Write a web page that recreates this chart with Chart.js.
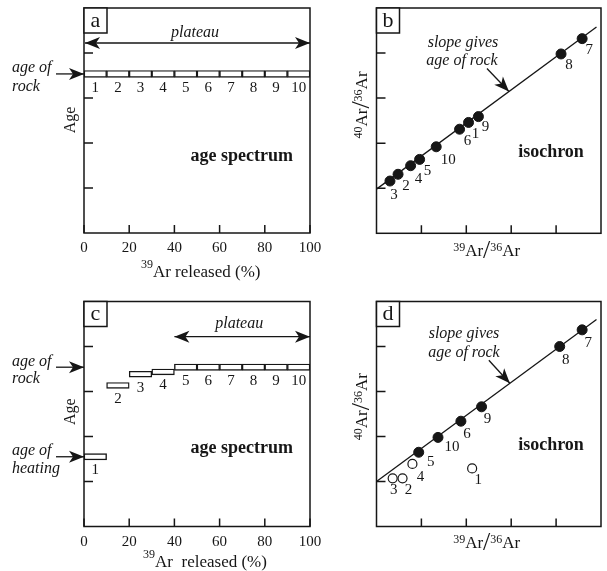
<!DOCTYPE html>
<html>
<head>
<meta charset="utf-8">
<script src="https://cdn.jsdelivr.net/npm/chart.js@4.4.0/dist/chart.umd.min.js"></script>
<style>
    html, body { margin: 0; padding: 0; background: #fff; }
    #wrap { position: relative; width: 607px; height: 571px; }
    #wrap canvas { position: absolute; left: 0; top: 0; }
</style>
</head>
<body>
<div id="wrap">
    <canvas id="chartA" width="607" height="571"></canvas>
    <canvas id="chartB" width="607" height="571"></canvas>
    <canvas id="chartC" width="607" height="571"></canvas>
    <canvas id="chartD" width="607" height="571"></canvas>
</div>
<script>
// Heating steps and % 39Ar released (centre of each 10% step)
const stepNames = ['1', '2', '3', '4', '5', '6', '7', '8', '9', '10'];
const stepMid = [5, 15, 25, 35, 45, 55, 65, 75, 85, 95];
const pctTicks = [0, 20, 40, 60, 80, 100];
const ageTicks = [1, 2, 3, 4];
const isoTicks = [1, 2, 3, 4];

// (a) undisturbed rock: flat age spectrum
const ageA_low  = [3.46, 3.46, 3.46, 3.46, 3.46, 3.46, 3.46, 3.46, 3.46, 3.46];
const ageA_high = [3.61, 3.61, 3.61, 3.61, 3.61, 3.61, 3.61, 3.61, 3.61, 3.61];

// (c) reheated rock: early steps give younger ages
const ageC_low  = [1.48, 3.07, 3.32, 3.37, 3.47, 3.47, 3.47, 3.47, 3.47, 3.47];
const ageC_high = [1.62, 3.20, 3.45, 3.50, 3.61, 3.61, 3.61, 3.61, 3.61, 3.61];

// (b) isochron, steps 1..10 (39Ar/36Ar, 40Ar/36Ar)
const isoB_x = [2.05, 0.48, 0.30, 0.76, 0.96, 1.85, 4.58, 4.11, 2.27, 1.33];
const isoB_y = [2.46, 1.31, 1.16, 1.50, 1.64, 2.31, 4.32, 3.98, 2.59, 1.92];
const lineB_x = [0, 4.9];
const lineB_y = [0.98, 4.58];

// (d) isochron of reheated rock, steps 1-4 fall off the line
const isoD_x = [2.13, 0.58, 0.36, 0.80, 0.94, 1.88, 4.58, 4.08, 2.34, 1.37];
const isoD_y = [1.29, 1.07, 1.07, 1.39, 1.65, 2.34, 4.37, 4.00, 2.66, 1.98];
const isoD_open = [true, true, true, true, false, false, false, false, false, false];
const lineD_x = [0, 4.9];
const lineD_y = [1.0, 4.60];

// label offsets (px) for the step numbers next to isochron points
const labOffB = [[7, 12], [8, 12], [4, 14], [8, 13], [8, 12], [8, 12], [7, 11], [8, 11], [7, 10], [12, 13]];
const labOffD = [[6, 12], [6, 12], [1, 12], [8, 13], [12, 10], [6, 13], [6, 13], [6, 14], [6, 12], [14, 10]];

const SERIF = '"Liberation Serif", "DejaVu Serif", serif';
const INK = '#161616';
const W = 607, H = 571;
const TICK_PAD = 6.5;
// height chart.js gives the x axis: one label line + padding on both sides
const X_AXIS_H = 18 + 2 * TICK_PAD;

// text helpers
function text(ctx, s, x, y, size, style, align, baseline) {
    ctx.font = (style || '') + ' ' + size + 'px ' + SERIF;
    ctx.textAlign = align || 'center';
    ctx.textBaseline = baseline || 'alphabetic';
    ctx.fillText(s, x, y);
}

// parts: [string, size, rise]
function rich(ctx, parts, cx, cy, rot) {
    ctx.save();
    ctx.translate(cx, cy);
    ctx.rotate(rot || 0);
    ctx.textAlign = 'left';
    ctx.textBaseline = 'alphabetic';
    let w = 0;
    parts.forEach(p => { ctx.font = p[1] + 'px ' + SERIF; w += ctx.measureText(p[0]).width; });
    let x = -w / 2;
    parts.forEach(p => {
        ctx.font = p[1] + 'px ' + SERIF;
        ctx.fillText(p[0], x, -(p[2] || 0));
        x += ctx.measureText(p[0]).width;
    });
    ctx.restore();
}

function head(ctx, x, y, ang) {
    ctx.save();
    ctx.translate(x, y);
    ctx.rotate(ang);
    ctx.beginPath();
    ctx.moveTo(0, 0);
    ctx.lineTo(-15, -6);
    ctx.lineTo(-11, 0);
    ctx.lineTo(-15, 6);
    ctx.closePath();
    ctx.fill();
    ctx.restore();
}

function arrow(ctx, x1, y1, x2, y2, both) {
    ctx.beginPath();
    ctx.moveTo(x1, y1);
    ctx.lineTo(x2, y2);
    ctx.stroke();
    const a = Math.atan2(y2 - y1, x2 - x1);
    head(ctx, x2, y2, a);
    if (both) head(ctx, x1, y1, a + Math.PI);
}

const pctTitle = [['39', 12, 9], ['Ar released (%)', 17, 0]];
const pctTitleC = [['39', 12, 9], ['Ar  released (%)', 17, 0]];
const ratioX = [['39', 12, 5], ['Ar', 17, 0], ['/', 26, -2], ['36', 12, 5], ['Ar', 17, 0]];
const ratioY = [['40', 12, 5], ['Ar', 17, 0], ['/', 26, -2], ['36', 12, 5], ['Ar', 17, 0]];

// frame, inward ticks, panel letter and annotations
function panelPlugin(letter, xTicks, yTicks, extra) {
    return {
        id: 'panel_' + letter,
        afterDatasetsDraw(chart) {
            const ctx = chart.ctx, a = chart.chartArea;
            const xs = chart.scales.x, ys = chart.scales.y;
            ctx.save();
            ctx.strokeStyle = INK;
            ctx.fillStyle = INK;
            ctx.lineWidth = 1.5;
            ctx.strokeRect(a.left, a.top, a.right - a.left, a.bottom - a.top);
            ctx.beginPath();
            xTicks.forEach(v => {
                const px = xs.getPixelForValue(v);
                ctx.moveTo(px, a.bottom);
                ctx.lineTo(px, a.bottom - 8);
            });
            yTicks.forEach(v => {
                const py = ys.getPixelForValue(v);
                ctx.moveTo(a.left, py);
                ctx.lineTo(a.left + 9, py);
            });
            ctx.stroke();

            ctx.fillStyle = '#fff';
            ctx.fillRect(a.left, a.top, 23, 25);
            ctx.strokeRect(a.left, a.top, 23, 25);
            ctx.fillStyle = INK;
            text(ctx, letter, a.left + 11.5, a.top + 18.5, 22);

            ctx.lineWidth = 1.3;
            extra(ctx, chart, xs, ys, a);
            ctx.restore();
        }
    };
}

function barNumbers(ctx, xs, ys, lows) {
    stepMid.forEach((x, i) => {
        text(ctx, stepNames[i], xs.getPixelForValue(x), ys.getPixelForValue(lows[i]) + 10.5, 15, '', 'center', 'middle');
    });
}

function pointNumbers(ctx, xs, ys, px, py, offs) {
    px.forEach((x, i) => {
        text(ctx, stepNames[i], xs.getPixelForValue(x) + offs[i][0], ys.getPixelForValue(py[i]) + offs[i][1], 15, '', 'center', 'middle');
    });
}

function spectrumChart(id, lows, highs, top, bottom, plugin) {
    return new Chart(document.getElementById(id), {
        type: 'bar',
        data: {
            datasets: [{
                data: stepMid.map((x, i) => ({ x: x, y: [lows[i], highs[i]] })),
                backgroundColor: '#fff',
                borderColor: INK,
                borderWidth: 1.4,
                borderSkipped: false,
                barPercentage: 1,
                categoryPercentage: 1
            }]
        },
        options: {
            responsive: false,
            animation: false,
            devicePixelRatio: 1,
            layout: { padding: { left: 84, right: W - 310, top: top, bottom: H - bottom - X_AXIS_H } },
            plugins: { legend: { display: false }, tooltip: { enabled: false } },
            scales: {
                x: {
                    type: 'linear', min: 0, max: 100, offset: false,
                    ticks: { stepSize: 20, padding: TICK_PAD, color: INK, font: { family: SERIF, size: 15 } },
                    grid: { display: false, drawTicks: false },
                    border: { display: false }
                },
                y: { type: 'linear', min: 0, max: 5, display: false }
            }
        },
        plugins: [plugin]
    });
}

function isochronChart(id, datasets, top, bottom, plugin) {
    return new Chart(document.getElementById(id), {
        type: 'scatter',
        data: { datasets: datasets },
        options: {
            responsive: false,
            animation: false,
            devicePixelRatio: 1,
            layout: { padding: { left: 376.5, right: W - 602.5, top: top, bottom: H - bottom } },
            plugins: { legend: { display: false }, tooltip: { enabled: false } },
            scales: {
                x: { type: 'linear', min: 0, max: 5, display: false },
                y: { type: 'linear', min: 0, max: 5, display: false }
            }
        },
        plugins: [plugin]
    });
}

function isoLine(xs, ys) {
    return {
        data: xs.map((x, i) => ({ x: x, y: ys[i] })),
        showLine: true,
        borderColor: INK,
        borderWidth: 1.3,
        pointRadius: 0
    };
}

// (a)
spectrumChart('chartA', ageA_low, ageA_high, 8, 233, panelPlugin('a', pctTicks, ageTicks, (ctx, chart, xs, ys, a) => {
    const x0 = xs.getPixelForValue(0), x1 = xs.getPixelForValue(100);
    arrow(ctx, x0 + 1, 43, x1, 43, true);
    text(ctx, 'plateau', (x0 + x1) / 2 - 2, 36.5, 16, 'italic');
    const yRock = ys.getPixelForValue((ageA_low[0] + ageA_high[0]) / 2);
    arrow(ctx, 56, yRock, a.left, yRock, false);
    text(ctx, 'age of', 12, 71.5, 16, 'italic', 'left');
    text(ctx, 'rock', 12, 90.5, 16, 'italic', 'left');
    rich(ctx, [['Age', 16, 0]], 75, 120, -Math.PI / 2);
    text(ctx, 'age spectrum', 241.7, 160.7, 18, 'bold');
    barNumbers(ctx, xs, ys, ageA_low);
    rich(ctx, pctTitle, 200.7, 276.5);
}));

// (c)
spectrumChart('chartC', ageC_low, ageC_high, 301.5, 526.5, panelPlugin('c', pctTicks, ageTicks, (ctx, chart, xs, ys, a) => {
    const x0 = xs.getPixelForValue(40), x1 = xs.getPixelForValue(100);
    arrow(ctx, x0, 336.7, x1, 336.7, true);
    text(ctx, 'plateau', (x0 + x1) / 2 - 3, 328.3, 16, 'italic');
    const yRock = ys.getPixelForValue((ageC_low[9] + ageC_high[9]) / 2);
    arrow(ctx, 56, yRock, a.left, yRock, false);
    text(ctx, 'age of', 12, 366, 16, 'italic', 'left');
    text(ctx, 'rock', 12, 383.3, 16, 'italic', 'left');
    const yHeat = ys.getPixelForValue((ageC_low[0] + ageC_high[0]) / 2);
    arrow(ctx, 56, yHeat, a.left, yHeat, false);
    text(ctx, 'age of', 12, 455, 16, 'italic', 'left');
    text(ctx, 'heating', 12, 473.3, 16, 'italic', 'left');
    rich(ctx, [['Age', 16, 0]], 75, 411.7, -Math.PI / 2);
    text(ctx, 'age spectrum', 241.7, 453.3, 18, 'bold');
    barNumbers(ctx, xs, ys, ageC_low);
    rich(ctx, pctTitleC, 205, 566.5);
}));

// (b)
isochronChart('chartB', [
    {
        data: isoB_x.map((x, i) => ({ x: x, y: isoB_y[i] })),
        pointRadius: 5,
        pointBackgroundColor: INK,
        pointBorderColor: INK,
        pointBorderWidth: 1
    },
    isoLine(lineB_x, lineB_y)
], 8, 233.3, panelPlugin('b', isoTicks, isoTicks, (ctx, chart, xs, ys, a) => {
    text(ctx, 'slope gives', 463, 46.5, 16, 'italic');
    text(ctx, 'age of rock', 462, 65, 16, 'italic');
    const tx = 2.95;
    const slope = (lineB_y[1] - lineB_y[0]) / (lineB_x[1] - lineB_x[0]);
    const px = xs.getPixelForValue(tx), py = ys.getPixelForValue(lineB_y[0] + slope * tx);
    arrow(ctx, px - 22, py - 23, px, py, false);
    text(ctx, 'isochron', 551, 157.3, 18, 'bold');
    pointNumbers(ctx, xs, ys, isoB_x, isoB_y, labOffB);
    rich(ctx, ratioY, 366.7, 105, -Math.PI / 2);
    rich(ctx, ratioX, 486.7, 256);
}));

// (d)
const dFilled = isoD_x.map((x, i) => ({ x: x, y: isoD_y[i] })).filter((p, i) => !isoD_open[i]);
const dOpen = isoD_x.map((x, i) => ({ x: x, y: isoD_y[i] })).filter((p, i) => isoD_open[i]);
isochronChart('chartD', [
    {
        data: dFilled,
        pointRadius: 5,
        pointBackgroundColor: INK,
        pointBorderColor: INK,
        pointBorderWidth: 1
    },
    {
        data: dOpen,
        pointRadius: 4.5,
        pointBackgroundColor: '#fff',
        pointBorderColor: INK,
        pointBorderWidth: 1.2
    },
    isoLine(lineD_x, lineD_y)
], 301.5, 526.5, panelPlugin('d', isoTicks, isoTicks, (ctx, chart, xs, ys, a) => {
    text(ctx, 'slope gives', 464, 338.3, 16, 'italic');
    text(ctx, 'age of rock', 464, 356.7, 16, 'italic');
    const tx = 2.97;
    const slope = (lineD_y[1] - lineD_y[0]) / (lineD_x[1] - lineD_x[0]);
    const px = xs.getPixelForValue(tx), py = ys.getPixelForValue(lineD_y[0] + slope * tx);
    arrow(ctx, px - 21, py - 23, px, py, false);
    text(ctx, 'isochron', 551, 450, 18, 'bold');
    pointNumbers(ctx, xs, ys, isoD_x, isoD_y, labOffD);
    rich(ctx, ratioY, 366.7, 406.7, -Math.PI / 2);
    rich(ctx, ratioX, 486.7, 548);
}));
</script>
</body>
</html>
